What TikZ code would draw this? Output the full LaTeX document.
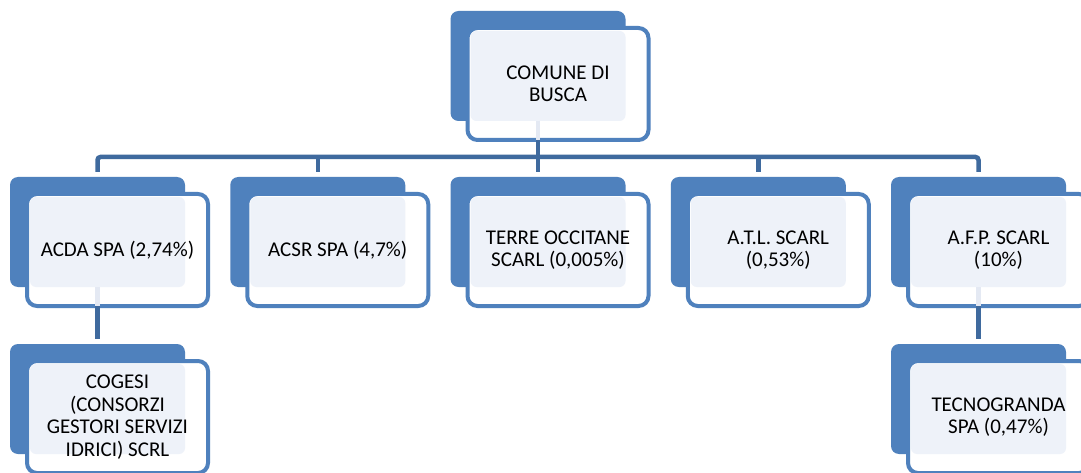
\documentclass[tikz,border=0pt]{standalone}
\usepackage{fontspec}
\setmainfont{Carlito}
\usetikzlibrary{calc}
\definecolor{accent}{HTML}{4F81BD}
\definecolor{connc}{HTML}{3F6A9E}
\definecolor{lightbox}{HTML}{EEF2F9}
\definecolor{stubc}{HTML}{E4E9F3}
\tikzset{
 backbox/.style={fill=accent, rounded corners=8pt, minimum width=175pt, minimum height=110pt, inner sep=0pt, outer sep=0pt},
 framebox/.style={draw=accent, line width=4pt, fill=white, rounded corners=10pt, minimum width=181pt, minimum height=112pt, inner sep=0pt, outer sep=0pt},
 litebox/.style={fill=lightbox, rounded corners=6pt, minimum width=155pt, minimum height=90pt, inner sep=0pt, outer sep=0pt},
 txt/.style={align=center, font=\fontsize{21}{22.5}\selectfont, text=black, inner sep=0pt},
 conn/.style={draw=connc, line width=4.5pt},
 stub/.style={draw=stubc, line width=4.5pt},
}
\newcommand\orgunit[4]{%
 \node[backbox] (#1-back) at (#2+87.5, #3+55) {};
 \node[framebox] (#1-frame) at (#2+107.5, #3+73) {};
 \node[litebox] (#1-lite) at (#2+97.5, #3+65) {};
 \node[txt] (#1-text) at (#1-frame.center) {#4};
}
\begin{document}
\begin{tikzpicture}[x=1pt,y=-1pt]
\useasboundingbox (0,0) rectangle (1081,473);
\clip (0,0) rectangle (1081,473);
\fill[white] (0,0) rectangle (1081,473);
\coordinate (bar) at (0,157);
\orgunit{top}{450.5}{11}{COMUNE DI\\BUSCA}
\orgunit{acda}{10}{177}{ACDA SPA (2,74\%)}
\orgunit{acsr}{230.25}{177}{ACSR SPA (4,7\%)}
\orgunit{terre}{450.5}{177}{TERRE OCCITANE\\SCARL (0,005\%)}
\orgunit{atl}{670.75}{177}{A.T.L. SCARL\\(0,53\%)}
\orgunit{afp}{891}{177}{A.F.P. SCARL\\(10\%)}
\orgunit{cogesi}{10}{344}{COGESI\\(CONSORZI\\GESTORI SERVIZI\\IDRICI) SCRL}
\orgunit{tecno}{891}{344}{TECNOGRANDA\\SPA (0,47\%)}
% connectors
\draw[stub] (top-back.south) -- (top-back.south |- top-frame.south);
\draw[conn] (top-back.south |- top-frame.south) -- (top-back.south |- bar);
\draw[conn, rounded corners=3pt] ($(acda-back.north)+(0,-5)$) -- (acda-back.north |- bar) -- (afp-back.north |- bar) -- ($(afp-back.north)+(0,-5)$);
\draw[conn] (acsr-back.north |- bar) -- ($(acsr-back.north)+(0,-5)$);
\draw[conn] (terre-back.north |- bar) -- ($(terre-back.north)+(0,-5)$);
\draw[conn] (atl-back.north |- bar) -- ($(atl-back.north)+(0,-5)$);
\draw[stub] (acda-back.south) -- (acda-back.south |- acda-frame.south);
\draw[conn] (acda-back.south |- acda-frame.south) -- ($(cogesi-back.north)+(0,-5)$);
\draw[stub] (afp-back.south) -- (afp-back.south |- afp-frame.south);
\draw[conn] (afp-back.south |- afp-frame.south) -- ($(tecno-back.north)+(0,-5)$);
\end{tikzpicture}
\end{document}
